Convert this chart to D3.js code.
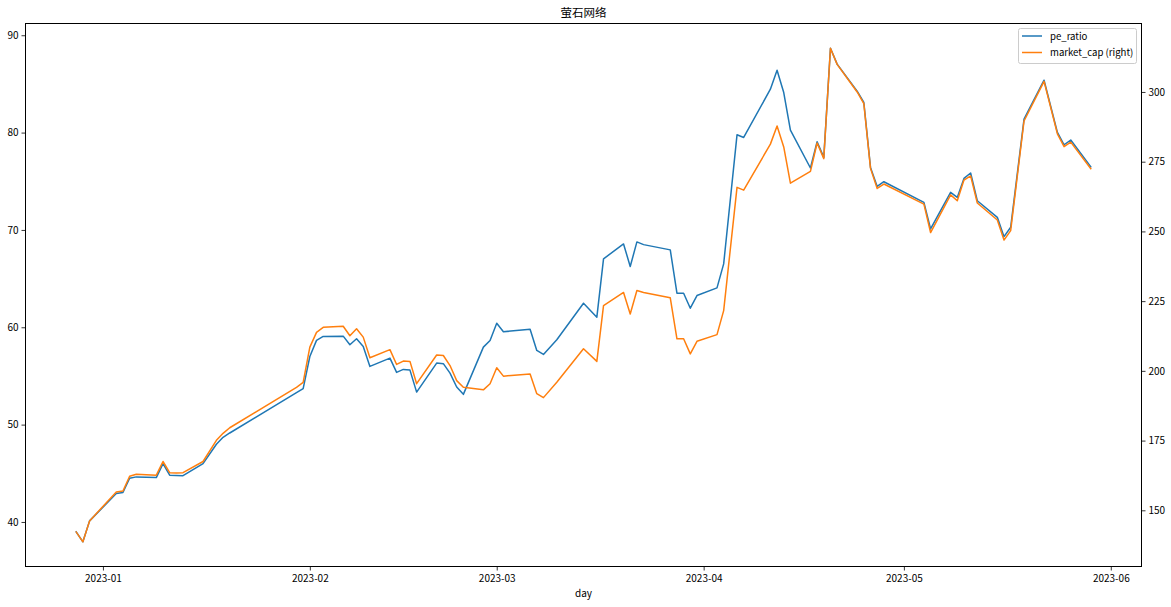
<!DOCTYPE html>
<html><head><meta charset="utf-8">
<script src="https://cdn.jsdelivr.net/npm/d3@7"></script>
<style>
body{margin:0;background:#fff}
svg text{font-family:"Noto Sans CJK SC","DejaVu Sans",sans-serif;fill:#000}
</style>
</head><body>
<svg id="chart" width="1171" height="607"></svg>
<script>
const chartTitle = "萤石网络";
const xLabel = "day";
const seriesNames = ["pe_ratio", "market_cap (right)"];
const days = [
"2022-12-28","2022-12-29","2022-12-30","2023-01-03","2023-01-04","2023-01-05","2023-01-06",
"2023-01-09","2023-01-10","2023-01-11","2023-01-12","2023-01-13","2023-01-16","2023-01-18",
"2023-01-19","2023-01-20","2023-01-30","2023-01-31","2023-02-01","2023-02-02","2023-02-03",
"2023-02-06","2023-02-07","2023-02-08","2023-02-09","2023-02-10","2023-02-13","2023-02-14",
"2023-02-15","2023-02-16","2023-02-17","2023-02-20","2023-02-21","2023-02-22","2023-02-23",
"2023-02-24","2023-02-27","2023-02-28","2023-03-01","2023-03-02","2023-03-06","2023-03-07",
"2023-03-08","2023-03-10","2023-03-14","2023-03-16","2023-03-17","2023-03-20","2023-03-21",
"2023-03-22","2023-03-23","2023-03-27","2023-03-28","2023-03-29","2023-03-30","2023-03-31",
"2023-04-03","2023-04-04","2023-04-06","2023-04-07","2023-04-11","2023-04-12","2023-04-13",
"2023-04-14","2023-04-17","2023-04-18","2023-04-19","2023-04-20","2023-04-21","2023-04-24",
"2023-04-25","2023-04-26","2023-04-27","2023-04-28","2023-05-04","2023-05-05","2023-05-08",
"2023-05-09","2023-05-10","2023-05-11","2023-05-12","2023-05-15","2023-05-16","2023-05-17",
"2023-05-19","2023-05-22","2023-05-24","2023-05-25","2023-05-26","2023-05-29"];
const peRatio = [
38.98,37.96,40.11,42.92,43.03,44.49,44.63,
44.56,46.00,44.80,44.77,44.75,46.00,47.98,
48.70,49.14,53.28,53.69,57.00,58.65,59.06,
59.09,58.21,58.82,58.03,55.98,56.83,55.36,
55.67,55.60,53.34,56.32,56.26,55.29,53.86,
53.11,57.96,58.65,60.42,59.54,59.80,57.62,
57.21,58.72,62.47,61.04,67.03,68.56,66.24,
68.77,68.49,67.95,63.50,63.50,61.96,63.26,
64.05,66.51,79.77,79.50,84.46,86.41,84.11,
80.26,76.36,79.06,77.45,88.67,87.03,84.25,
83.09,76.42,74.47,74.95,72.83,70.10,73.86,
73.34,75.29,75.85,73.00,71.29,69.31,70.27,
81.38,85.38,80.01,78.75,79.23,76.49];
const marketCap = [
142.2,138.7,146.2,156.6,156.9,162.2,162.9,
162.6,167.5,163.5,163.4,163.5,167.5,175.1,
177.6,179.6,194.1,195.9,208.5,213.8,215.6,
216.0,212.6,215.1,212.1,204.7,207.6,202.3,
203.5,203.4,195.4,205.7,205.5,201.9,196.5,
194.1,193.2,195.4,201.1,198.1,198.9,191.8,
190.4,195.9,207.9,203.4,223.4,228.1,220.4,
228.8,228.1,226.2,211.5,211.5,206.1,210.6,
213.0,221.6,265.8,264.8,281.3,287.8,280.3,
267.3,271.5,281.7,276.1,315.7,309.9,300.0,
295.8,272.6,265.4,267.0,259.8,249.6,263.1,
261.0,268.4,269.9,260.2,254.1,246.9,250.3,
289.6,303.8,285.0,280.4,282.0,272.5];
const leftTicks = [40,50,60,70,80,90];
const rightTicks = [150,175,200,225,250,275,300];
const monthTicks = ["2023-01-01","2023-02-01","2023-03-01","2023-04-01","2023-05-01","2023-06-01"];
const colors = ["#1f77b4","#ff7f0e"];

const parse = d3.timeParse("%Y-%m-%d");
const rows = days.map((d,i)=>({date:parse(d), pe:peRatio[i], mc:marketCap[i]}));

const X0 = 25.5, X1 = 1141.5, Y0 = 23.5, Y1 = 566.5;
function padded(ext){ const s = ext[1]-ext[0]; return [ext[0]-s*0.05, ext[1]+s*0.05]; }

const x = d3.scaleTime().domain(padded(d3.extent(rows, r=>r.date).map(Number)).map(v=>new Date(v))).range([X0, X1]);
const yL = d3.scaleLinear().domain(padded(d3.extent(rows, r=>r.pe))).range([Y1, Y0]);
const yR = d3.scaleLinear().domain(padded(d3.extent(rows, r=>r.mc))).range([Y1, Y0]);

const svg = d3.select("#chart");
svg.append("rect").attr("width",1171).attr("height",607).attr("fill","#fff");

const fmt = d3.timeFormat("%Y-%m");
function styleAxis(g){
  g.select(".domain").remove();
  g.selectAll(".tick line").attr("stroke","#000").attr("stroke-width",0.8);
  g.selectAll(".tick text").attr("font-size",10).attr("fill","#000");
}
svg.append("g").attr("transform",`translate(0,${Y1})`)
  .call(d3.axisBottom(x).tickValues(monthTicks.map(parse)).tickFormat(fmt).tickSize(4).tickPadding(4))
  .call(styleAxis);
svg.append("g").attr("transform",`translate(${X0},0)`)
  .call(d3.axisLeft(yL).tickValues(leftTicks).tickSize(4).tickPadding(3))
  .call(styleAxis);
svg.append("g").attr("transform",`translate(${X1},0)`)
  .call(d3.axisRight(yR).tickValues(rightTicks).tickSize(4).tickPadding(3))
  .call(styleAxis);

svg.append("path").datum(rows)
  .attr("fill","none").attr("stroke",colors[0]).attr("stroke-width",1.5)
  .attr("stroke-linejoin","round").attr("stroke-linecap","square")
  .attr("d", d3.line().x(r=>x(r.date)).y(r=>yL(r.pe)));
svg.append("path").datum(rows)
  .attr("fill","none").attr("stroke",colors[1]).attr("stroke-width",1.5)
  .attr("stroke-linejoin","round").attr("stroke-linecap","square")
  .attr("d", d3.line().x(r=>x(r.date)).y(r=>yR(r.mc)));

svg.append("rect").attr("x",X0).attr("y",Y0).attr("width",X1-X0).attr("height",Y1-Y0)
  .attr("fill","none").attr("stroke","#000").attr("stroke-width",1);

svg.append("text").attr("x",(X0+X1)/2).attr("y",17).attr("text-anchor","middle")
  .attr("font-size",11.5).text(chartTitle);
svg.append("text").attr("x",(X0+X1)/2).attr("y",597).attr("text-anchor","middle")
  .attr("font-size",10).text(xLabel);

const lg = svg.append("g");
lg.append("rect").attr("x",1018.5).attr("y",28.5).attr("width",118).attr("height",35)
  .attr("rx",2).attr("fill","#fff").attr("fill-opacity",0.8).attr("stroke","#cccccc").attr("stroke-width",1);
seriesNames.forEach((n,i)=>{
  const yy = 36 + i*16.5;
  lg.append("line").attr("x1",1022).attr("x2",1042).attr("y1",yy).attr("y2",yy)
    .attr("stroke",colors[i]).attr("stroke-width",1.5);
  lg.append("text").attr("x",1050).attr("y",yy+3.5).attr("font-size",9.6).text(n);
});
</script>
</body></html>
